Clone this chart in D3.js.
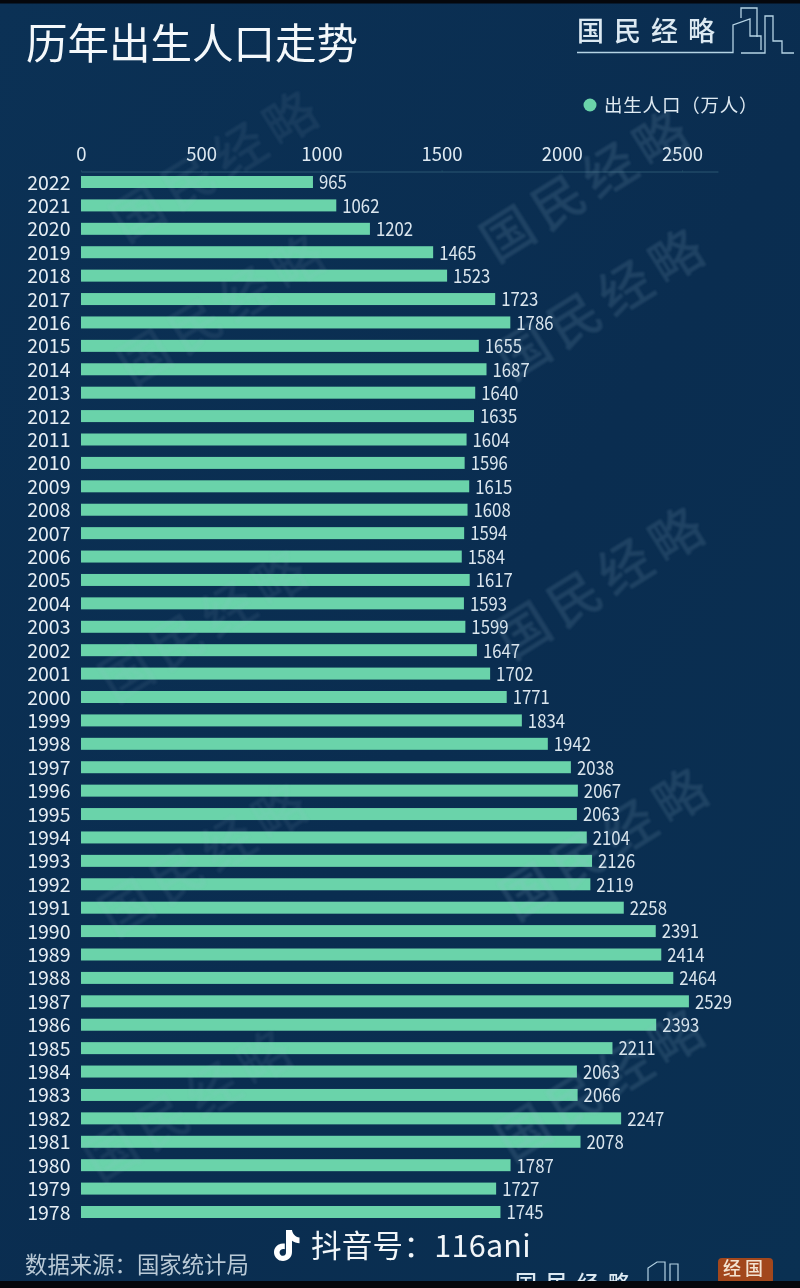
<!DOCTYPE html>
<html><head><meta charset="utf-8">
<script src="https://cdn.jsdelivr.net/npm/d3@7"></script>
<style>html,body{margin:0;padding:0;background:#000;overflow:hidden}svg{display:block}
text{font-family:"Noto Sans CJK SC","Noto Sans",sans-serif}</style></head>
<body><svg id="c" width="800" height="1288"></svg>
<script>
const years=[2022,2021,2020,2019,2018,2017,2016,2015,2014,2013,2012,2011,2010,2009,2008,2007,2006,2005,2004,2003,2002,2001,2000,1999,1998,1997,1996,1995,1994,1993,1992,1991,1990,1989,1988,1987,1986,1985,1984,1983,1982,1981,1980,1979,1978];
const births=[965,1062,1202,1465,1523,1723,1786,1655,1687,1640,1635,1604,1596,1615,1608,1594,1584,1617,1593,1599,1647,1702,1771,1834,1942,2038,2067,2063,2104,2126,2119,2258,2391,2414,2464,2529,2393,2211,2063,2066,2247,2078,1787,1727,1745];
const tickValues=[0,500,1000,1500,2000,2500];
const titleText="历年出生人口走势", legendText="出生人口（万人）", sourceText="数据来源：国家统计局", brand="国民经略";
const watermarks=[[216,168],[586,188],[223,312],[602,306],[205,628],[602,585],[205,862],[606,846],[190,1108],[602,1087]];

const svg=d3.select("#c");
const defs=svg.append("defs");
const g=defs.append("linearGradient").attr("id","bg").attr("x1",0).attr("x2",1).attr("y1",0).attr("y2",1);
g.append("stop").attr("offset",0).attr("stop-color","#0b3155");
g.append("stop").attr("offset",.55).attr("stop-color","#0a2d50");
g.append("stop").attr("offset",1).attr("stop-color","#0a3052");
const f=defs.append("filter").attr("id","soft");f.append("feGaussianBlur").attr("stdDeviation",.45);
const f2=defs.append("filter").attr("id","softer");f2.append("feGaussianBlur").attr("stdDeviation",.8);
svg.append("rect").attr("width",800).attr("height",1288).attr("fill","url(#bg)");

const chart=svg.append("g").attr("filter","url(#soft)");
const x=d3.scaleLinear().domain([0,2650]).range([81,718]);
const y=d3.scalePoint().domain(years).range([182,1212]);

const ax=chart.append("g").attr("transform","translate(0,171.5)")
 .call(d3.axisTop(x).tickValues(tickValues).tickSize(1).tickSizeOuter(0).tickPadding(10).tickFormat(d3.format("d")));
ax.select(".domain").attr("stroke","#2a5870").attr("stroke-width",1);
ax.selectAll("line").attr("stroke","#2a5870");
ax.selectAll("text").attr("fill","#dfeaf2").attr("font-size",18.5).style("font-family",'"Noto Sans CJK SC"');

chart.append("g").selectAll("rect").data(births).join("rect")
 .attr("x",x(0)).attr("y",(d,i)=>y(years[i])-6).attr("height",12)
 .attr("width",d=>x(d)-x(0)).attr("fill","#6ad3aa");

// watermarks lie over the bars
svg.append("g").attr("filter","url(#softer)").selectAll("text").data(watermarks).join("text")
 .attr("transform",d=>`translate(${d[0]+4},${d[1]}) rotate(-32)`)
 .attr("text-anchor","middle").attr("dominant-baseline","middle")
 .attr("font-size",52).attr("font-weight",500).attr("letter-spacing",8).attr("fill","#9dbbd0")
 .attr("opacity",d=>d[0]<400?.09:.15)
 .text(brand);

chart.append("g").selectAll("text").data(births).join("text")
 .attr("x",d=>x(d)+6).attr("y",(d,i)=>y(years[i])+.5).attr("dy","0.36em")
 .attr("font-size",19).attr("textLength",d=>String(d).length*9.3).attr("lengthAdjust","spacingAndGlyphs")
 .attr("fill","#dbe6ee").text(d=>d);
chart.append("g").selectAll("text").data(years).join("text")
 .attr("x",70.5).attr("y",d=>y(d)+.5).attr("dy","0.36em").attr("text-anchor","end")
 .attr("font-size",19.5).attr("fill","#e6eef4").text(d=>d);

// title + legend
chart.append("text").attr("x",26).attr("y",59).attr("font-size",41.5).attr("fill","#f4f8fb").text(titleText);
chart.append("circle").attr("cx",590).attr("cy",105).attr("r",6.5).attr("fill","#6ad3aa");
chart.append("text").attr("x",604).attr("y",111.5).attr("font-size",18.5).attr("letter-spacing",.8).attr("fill","#dfeaf2").text(legendText);

// top logo
chart.append("text").attr("x",577).attr("y",41).attr("font-size",27).attr("font-weight",500).attr("letter-spacing",10).attr("fill","#dce9f2").text(brand);
const line=d3.line();
[[[577,52.5],[733,52.5],[733,25],[750,19],[750,36],[761,36],[761,50]],
 [[741,18],[741,8],[757,8],[757,37]],
 [[741,53],[765,53],[765,16],[773,16],[773,41],[782,41],[782,53],[794,53]]]
 .forEach(p=>chart.append("path").attr("d",line(p)).attr("fill","none").attr("stroke","#b5d3e4").attr("stroke-width",1.3));

// footer
chart.append("text").attr("x",25).attr("y",1273).attr("font-size",22.4).attr("fill","#b9c9d6").text(sourceText);
chart.append("path").attr("d","M286 1230h6c.6 4 3.4 7 7.5 7.6v5.6c-2.8 0-5.4-.9-7.5-2.4v11.2c0 5.4-4.2 9-9 9s-9-3.8-9-8.8c0-5.4 4.8-9.6 10.8-8.6v5.6c-2.8-.8-5.2 1-5.2 3.2 0 2 1.6 3.4 3.4 3.4 2 0 3-1.6 3-3.6z").attr("fill","#fff");
chart.append("text").attr("x",311).attr("y",1257).attr("font-size",30.5).attr("letter-spacing",.3).attr("fill","#f2f6f9").text("抖音号：116ani");

// bottom logo, clipped by the frame
chart.append("text").attr("x",515).attr("y",1291).attr("font-size",22).attr("font-weight",500).attr("letter-spacing",9).attr("fill","#dce9f2").text(brand);
[[[648,1282],[648,1268],[657,1262],[665,1262],[665,1282]],[[670,1282],[670,1264],[678,1264],[678,1282]]]
 .forEach(p=>chart.append("path").attr("d",line(p)).attr("fill","none").attr("stroke","#b5d3e4").attr("stroke-width",1.2));
chart.append("rect").attr("x",718).attr("y",1258).attr("width",55).attr("height",26).attr("rx",4).attr("fill","#a2461f");
chart.append("text").attr("x",745).attr("y",1275).attr("text-anchor","middle").attr("font-size",18).attr("font-weight",500).attr("letter-spacing",4).attr("fill","#f3e3d0").text("经国");

// black frame strips
svg.append("rect").attr("width",800).attr("height",3.5).attr("fill","#05070c");
svg.append("rect").attr("y",1281).attr("width",800).attr("height",7).attr("fill","#05070c");
</script></body></html>
